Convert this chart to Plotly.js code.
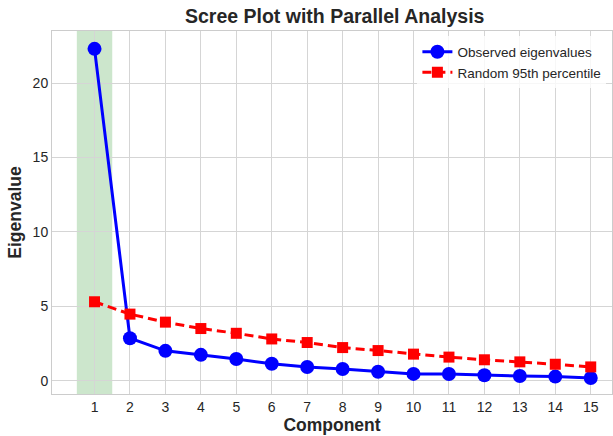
<!DOCTYPE html>
<html>
<head>
<meta charset="utf-8">
<script src="https://cdn.plot.ly/plotly-3.0.1.min.js"></script>
<style>html,body{margin:0;padding:0;background:#fff;}#chart{width:613px;height:436px;}</style>
</head>
<body>
<div id="chart"></div>
<script>
var components = [1,2,3,4,5,6,7,8,9,10,11,12,13,14,15];
var observed = [22.3, 2.85, 2.0, 1.73, 1.45, 1.13, 0.91, 0.78, 0.6, 0.45, 0.44, 0.36, 0.31, 0.27, 0.18];
var random95 = [5.3, 4.47, 3.93, 3.5, 3.18, 2.8, 2.56, 2.22, 2.02, 1.78, 1.58, 1.4, 1.26, 1.1, 0.92];
var retainedStart = 0.5, retainedEnd = 1.5;

var traces = [
  {x: components, y: observed, name: 'Observed eigenvalues', mode: 'lines+markers',
   line: {color: '#0000ff', width: 3}, marker: {color: '#0000ff', size: 14, symbol: 'circle'}},
  {x: components, y: random95, name: 'Random 95th percentile', mode: 'lines+markers',
   line: {color: '#ff0000', width: 3, dash: '9px,5px'}, marker: {color: '#ff0000', size: 11, symbol: 'square'}}
];
var font = 'Liberation Sans, Arial, sans-serif';
var layout = {
  width: 613, height: 436,
  margin: {l: 52, r: 1, t: 31, b: 42},
  paper_bgcolor: '#fff', plot_bgcolor: '#fff',
  font: {family: font, color: '#262626', size: 12},
  title: {text: '<b>Scree Plot with Parallel Analysis</b>', font: {size: 19.5, color: '#262626', family: font}, x: 0.546, xanchor: 'center', y: 0.962, yanchor: 'middle'},
  xaxis: {range: [-0.2, 15.6], tickvals: components, ticktext: components.map(String),
    showgrid: true, gridcolor: '#d5d5d5', gridwidth: 1, zeroline: false,
    showline: true, linecolor: '#cccccc', linewidth: 1, mirror: true, ticks: '',
    tickfont: {size: 14, color: '#262626'},
    title: {text: '<b>Component</b>', font: {size: 17.5, color: '#262626'}, standoff: 4}},
  yaxis: {range: [-0.9, 23.5], tickvals: [0,5,10,15,20],
    showgrid: true, gridcolor: '#d5d5d5', gridwidth: 1, zeroline: false,
    showline: true, linecolor: '#cccccc', linewidth: 1, mirror: true, ticks: '',
    tickfont: {size: 14, color: '#262626'},
    title: {text: '<b>Eigenvalue</b>', font: {size: 17.5, color: '#262626'}, standoff: 6}},
  shapes: [{type: 'rect', xref: 'x', yref: 'paper', x0: retainedStart, x1: retainedEnd, y0: 0, y1: 1,
    fillcolor: 'rgba(0,128,0,0.2)', line: {width: 0}, layer: 'below'}],
  legend: {x: 0.99, y: 0.985, xanchor: 'right', yanchor: 'top', bgcolor: 'rgba(255,255,255,0.8)',
    borderwidth: 0, font: {size: 13.5, color: '#262626'}, tracegroupgap: 0, itemwidth: 30},
  showlegend: true
};
Plotly.newPlot('chart', traces, layout, {displayModeBar: false, staticPlot: true});
</script>
</body>
</html>
